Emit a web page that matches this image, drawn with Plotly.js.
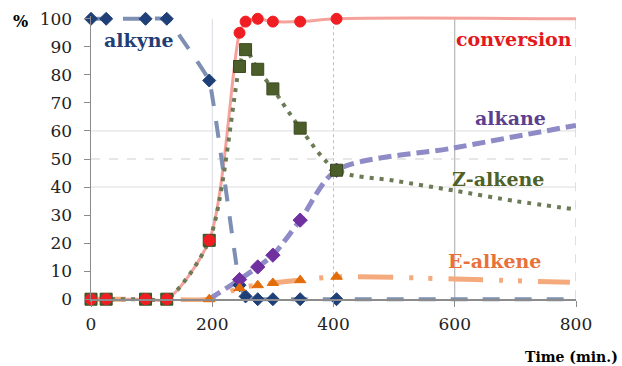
<!DOCTYPE html>
<html><head><meta charset="utf-8">
<script src="https://cdn.plot.ly/plotly-3.0.1.min.js"></script>
<style>html,body{margin:0;padding:0;background:#fff}#chart{width:622px;height:366px}</style>
</head><body><div id="chart"></div>
<script>
// sampled points (minutes, %)
const time = [0, 25, 90, 125, 195, 245, 255, 275, 300, 345, 405];
const conversion = [0, 0, 0, 0, 21, 95, 99, 100, 99, 99, 100];
const zAlkene = [0, 0, 0, 0, 21, 83, 89, 82, 75, 61, 46];
const alkyne = [100, 100, 100, 100, 78, 5, 1, 0, 0, 0, 0];
const eAlkeneTime = [0, 25, 90, 125, 195, 245, 275, 300, 345, 405];
const eAlkene = [0, 0, 0, 0, 0, 4, 5, 5.8, 6.8, 8];
const alkaneTime = [195, 245, 275, 300, 345, 405];
const alkane = [0, 7, 11.5, 15.7, 28.2, 46];

// curve continuations after the last sample
const convTailTime = [800];            const convTail = [100];
const zTailTime = [500, 600, 700, 800]; const zTail = [42.3, 38.7, 35, 32];
const alkyneTailTime = [800];          const alkyneTail = [0];
const eTailTime = [600, 790];          const eTail = [7.2, 6];
const alkaneTailTime = [600, 800];     const alkaneTail = [54, 62];

// axis ticks
const xTicks = [0, 200, 400, 600, 800];
const yTicks = [0, 10, 20, 30, 40, 50, 60, 70, 80, 90, 100];

// series labels
const labels = ['alkyne', 'conversion', 'alkane', 'Z-alkene', 'E-alkene'];
const labelX = [79, 698, 692, 671, 666];
const labelY = [92.5, 92.9, 64.6, 42.8, 13.6];
const labelColors = ['#233E76', '#E3191C', '#5C3F8F', '#4E6228', '#E8703A'];

const serif = "'DejaVu Serif', serif";

function line(x, y, color, width, dash, smoothing) {
  return {x: x, y: y, type: 'scatter', mode: 'lines', hoverinfo: 'skip',
    line: {color: color, width: width, dash: dash, shape: 'spline', smoothing: smoothing}};
}
function marks(x, y, symbol, size, color, lineColor) {
  return {x: x, y: y, type: 'scatter', mode: 'markers', cliponaxis: false,
    marker: {symbol: symbol, size: size, color: color, line: {color: lineColor, width: 1}}};
}

const traces = [
  line(time.concat(convTailTime), conversion.concat(convTail), '#F6A29C', 3, 'solid', 0.8),
  line(time.concat(alkyneTailTime), alkyne.concat(alkyneTail), '#7D8FB3', 4, '17px,15px', 0.2),
  line(eAlkeneTime.concat(eTailTime), eAlkene.concat(eTail), '#F4AA7C', 5, '35px,16px,4px,15px,4px,16px', 0.8),
  line(alkaneTime.concat(alkaneTailTime), alkane.concat(alkaneTail), '#8F8BC6', 5, '13px,6px', 0.8),
  line(time.concat(zTailTime), zAlkene.concat(zTail), '#6C7B56', 4, '4px,6px', 0.8),
  marks(time, alkyne, 'diamond', 10, '#1F3F78', '#1F3F78'),
  marks(alkaneTime.slice(1), alkane.slice(1), 'diamond', 11, '#7030A0', '#7030A0'),
  marks(eAlkeneTime, eAlkene, 'triangle-up', 10, '#E36C0A', '#E36C0A'),
  marks(time, zAlkene, 'square', 12, '#4B5E2A', '#3A4A20'),
  marks(time, conversion, 'circle', 11, '#F01E23', '#F01E23')
];

const shapes = [
  {x: 200, c: '#D6DCE4', d: 'solid'}, {x: 400, c: '#BFBFBF', d: 'dot'},
  {x: 600, c: '#A6A6A6', d: 'solid'}, {x: 800, c: '#BFBFBF', d: 'dash'}
].map(g => ({type: 'line', layer: 'below', xref: 'x', yref: 'y', x0: g.x, x1: g.x, y0: 0, y1: 100,
  line: {color: g.c, width: 1, dash: g.d}}))
.concat([
  {y: 40, c: '#DDDDDD', d: 'solid'}, {y: 50, c: '#CFCFCF', d: 'dash'}, {y: 60, c: '#DDDDDD', d: 'solid'}
].map(g => ({type: 'line', layer: 'below', xref: 'x', yref: 'y', x0: 0, x1: 800, y0: g.y, y1: g.y,
  line: {color: g.c, width: 1, dash: g.d}})));

const annotations = labels.map((t, i) => ({
  text: t, x: labelX[i], y: labelY[i], xref: 'x', yref: 'y',
  showarrow: false, xanchor: 'center', yanchor: 'middle',
  font: {family: serif, size: 19, weight: 'bold', color: labelColors[i]}
})).concat([
  {text: '%', xref: 'paper', yref: 'paper', x: -0.1454, y: 0.981, showarrow: false,
   xanchor: 'center', yanchor: 'middle', font: {family: serif, size: 16, weight: 'bold', color: '#000'}},
  {text: 'Time (min.)', xref: 'paper', yref: 'paper', x: 1.09, y: -0.192, showarrow: false,
   xanchor: 'right', yanchor: 'middle', font: {family: serif, size: 14, weight: 'bold', color: '#000'}}
]);

const layout = {
  width: 622, height: 366,
  margin: {l: 91, r: 46, t: 16, b: 64, pad: 0},
  paper_bgcolor: '#fff', plot_bgcolor: '#fff',
  showlegend: false,
  font: {family: serif},
  xaxis: {range: [0, 800], tickvals: xTicks, ticktext: xTicks.map(String),
    showgrid: false, zeroline: false, showline: true, linecolor: '#8C8C8C', linewidth: 1.5,
    ticks: 'outside', ticklen: 6, tickcolor: '#8C8C8C', ticklabelstandoff: 3,
    anchor: 'free', position: 1 / 102,
    tickfont: {family: serif, size: 17, color: '#222'}},
  yaxis: {range: [-1, 101], tickvals: yTicks, ticktext: yTicks.map(String),
    showgrid: false, zeroline: false, showline: true, linecolor: '#8C8C8C', linewidth: 1.5,
    ticks: 'outside', ticklen: 6, tickcolor: '#8C8C8C', ticklabelstandoff: 8,
    tickfont: {family: serif, size: 17, color: '#222'}},
  shapes: shapes,
  annotations: annotations
};

Plotly.newPlot('chart', traces, layout, {staticPlot: true, displayModeBar: false});
</script></body></html>
